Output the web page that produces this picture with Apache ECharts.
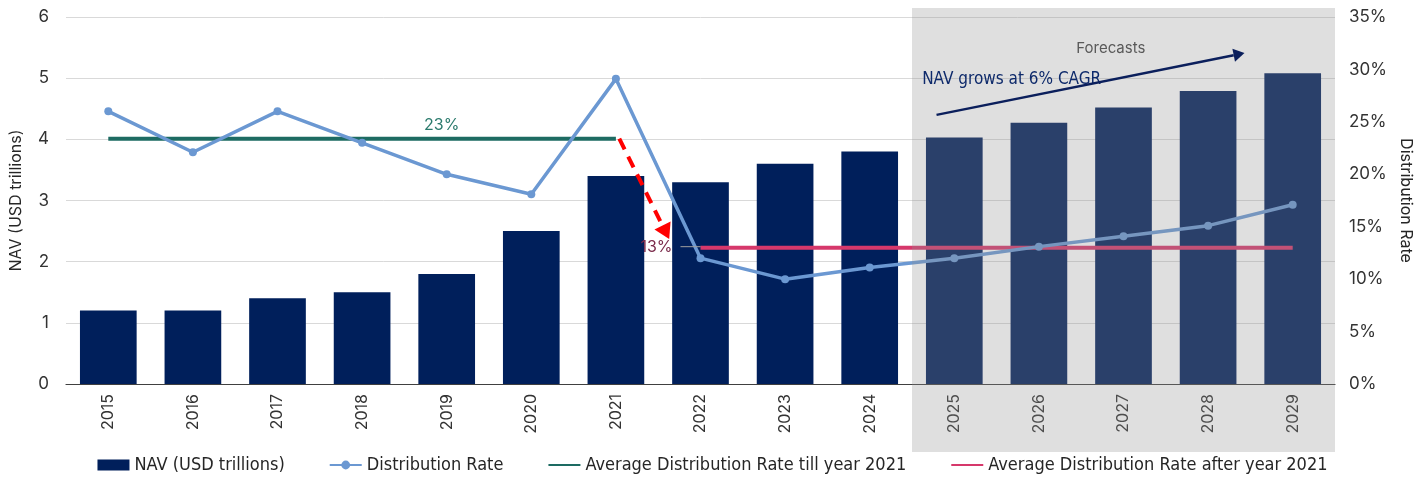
<!DOCTYPE html>
<html>
<head>
<meta charset="utf-8">
<script src="https://cdn.jsdelivr.net/npm/echarts@6/dist/echarts.min.js"></script>
<style>html,body{margin:0;padding:0;background:#fff}#c{width:1425px;height:492px}</style>
</head>
<body>
<div id="c"></div>
<script>
const categories = ['2015','2016','2017','2018','2019','2020','2021','2022','2023','2024','2025','2026','2027','2028','2029'];
const navValues = [1.2,1.2,1.4,1.5,1.8,2.5,3.4,3.3,3.6,3.8,4.03,4.27,4.52,4.79,5.08];
const distRate = [26.0,22.1,26.0,23.0,20.0,18.1,29.1,12.0,10.0,11.1,12.0,13.1,14.1,15.1,17.1];
const avgTill2021 = 23.4;
const avgAfter2021 = 13.0;
const splitYear = '2021';
const forecastStart = '2025';
const avgTillLabel = '23%';
const avgAfterLabel = '13%';
const seriesNames = ['NAV (USD trillions)','Distribution Rate','Average Distribution Rate till year 2021','Average Distribution Rate after year 2021'];

const splitIdx = categories.indexOf(splitYear);
const avgTillData = categories.map((c,i)=> i<=splitIdx ? avgTill2021 : null);
const avgAfterData = categories.map((c,i)=> i>splitIdx ? avgAfter2021 : null);

const FONT = 'Inter';
const NARROW = '"DejaVu Sans Condensed", "Roboto", sans-serif';
const chart = echarts.init(document.getElementById('c'));
const option = {
  animation:false,
  textStyle:{fontFamily:FONT},
  grid:{left:64,right:90,top:17,bottom:108},
  legend:{
    bottom:13,left:'center',itemGap:44,itemWidth:32,itemHeight:11,
    textStyle:{fontFamily:NARROW,fontSize:18,color:'#262626'},
    data:[
      {name:seriesNames[0],icon:'rect'},
      {name:seriesNames[1]},
      {name:seriesNames[2],itemStyle:{opacity:0}},
      {name:seriesNames[3],itemStyle:{opacity:0}}
    ]
  },
  xAxis:{
    type:'category',data:categories,
    axisLine:{lineStyle:{color:'#404040',width:1.2}},
    axisTick:{show:false},
    axisLabel:{rotate:90,fontSize:16,color:'#333',margin:10,fontFamily:FONT}
  },
  yAxis:[{
    type:'value',min:0,max:6,interval:1,
    name:'NAV (USD trillions)',nameLocation:'middle',nameGap:42,
    nameTextStyle:{fontSize:16,color:'#262626',fontFamily:FONT},
    axisLabel:{fontSize:17,color:'#333',margin:17},
    splitLine:{lineStyle:{color:'#d9d9d9'}},
    axisLine:{show:false},axisTick:{show:false}
  },{
    type:'value',min:0,max:35,interval:5,
    name:'Distribution Rate',nameLocation:'middle',nameGap:62,nameRotate:-90,
    nameTextStyle:{fontSize:16,color:'#262626',fontFamily:FONT},
    axisLabel:{fontSize:17,color:'#333',margin:14,formatter:'{value}%'},
    splitLine:{show:false},axisLine:{show:false},axisTick:{show:false}
  }],
  series:[{
    name:seriesNames[0],type:'bar',data:navValues,barWidth:'67%',
    itemStyle:{color:'#001F5B'},z:2
  },{
    name:seriesNames[1],type:'line',yAxisIndex:1,data:distRate,
    symbol:'circle',symbolSize:8,
    lineStyle:{color:'#6B98D2',width:3.5},itemStyle:{color:'#6B98D2'},z:5
  },{
    name:seriesNames[2],type:'line',yAxisIndex:1,data:avgTillData,
    symbol:'none',lineStyle:{color:'#1D6B62',width:4},itemStyle:{color:'#1D6B62'},z:4
  },{
    name:seriesNames[3],type:'line',yAxisIndex:1,data:avgAfterData,
    symbol:'none',lineStyle:{color:'#D6386B',width:4},itemStyle:{color:'#D6386B'},z:4
  }]
};
chart.setOption(option);

// annotations computed from the axes
const px0 = chart.convertToPixel({xAxisIndex:0}, categories[0]);
const px1 = chart.convertToPixel({xAxisIndex:0}, categories[1]);
const step = px1 - px0;
const xAt = f => px0 + f*step;
const yL = v => chart.convertToPixel({yAxisIndex:0}, v);
const yR = v => chart.convertToPixel({yAxisIndex:1}, v);
const fIdx = categories.indexOf(forecastStart);

function arrow(x1,y1,x2,y2,color,width,head,dash,z){
  const ang = Math.atan2(y2-y1,x2-x1);
  const hx = x2 - Math.cos(ang)*head, hy = y2 - Math.sin(ang)*head;
  const w = head*0.6;
  const nx = -Math.sin(ang)*w, ny = Math.cos(ang)*w;
  return [{
    type:'line',z:z,shape:{x1:x1,y1:y1,x2:hx,y2:hy},
    style:{stroke:color,lineWidth:width,lineDash:dash||null}
  },{
    type:'polygon',z:z,shape:{points:[[x2,y2],[hx+nx,hy+ny],[hx-nx,hy-ny]]},
    style:{fill:color}
  }];
}

const gridRight = xAt(categories.length-0.5);
const elements = [];
elements.push({
  type:'rect',z:100,
  shape:{x:xAt(fIdx-0.5),y:yL(6)-9,width:gridRight-xAt(fIdx-0.5),height:(yL(0)+68)-(yL(6)-9)},
  style:{fill:'rgba(145,145,145,0.29)'}
});
elements.push({
  type:'text',z:110,x:xAt(11.85),y:yR(32),
  style:{text:'Forecasts',fill:'#595959',font:'15px Inter',textAlign:'center',textVerticalAlign:'middle'}
});
elements.push({
  type:'text',z:110,x:xAt(9.62),y:yL(4.98),
  style:{text:'NAV grows at 6% CAGR',fill:'#0E2A6B',font:'17px "DejaVu Sans Condensed", Roboto, sans-serif',textAlign:'left',textVerticalAlign:'middle'}
});
elements.push(...arrow(xAt(9.79),yL(4.40),xAt(13.43),yL(5.41),'#0B1F5C',2.5,11,null,110));
elements.push(...arrow(xAt(6.04),yR(avgTill2021),xAt(6.63),yL(2.37),'#FF0000',4,15,[12,8],50));
// average labels
elements.push({
  type:'text',z:60,x:xAt(4)-5,y:yR(avgTill2021)-13,
  style:{text:avgTillLabel,fill:'#2A7A6C',font:'16px Inter',textAlign:'center',textVerticalAlign:'middle'}
});
elements.push({
  type:'text',z:60,x:xAt(splitIdx+1)-28,y:yR(avgAfter2021),
  style:{text:avgAfterLabel,fill:'#7A2A4A',font:'16px Inter',textAlign:'right',textVerticalAlign:'middle'}
});
elements.push({
  type:'line',z:60,shape:{x1:xAt(splitIdx+1)-20,y1:yR(avgAfter2021)-1,x2:xAt(splitIdx+1),y2:yR(avgAfter2021)-1},
  style:{stroke:'#a0a0a0',lineWidth:1}
});
chart.setOption({graphic:{elements:elements}});
</script>
</body>
</html>
